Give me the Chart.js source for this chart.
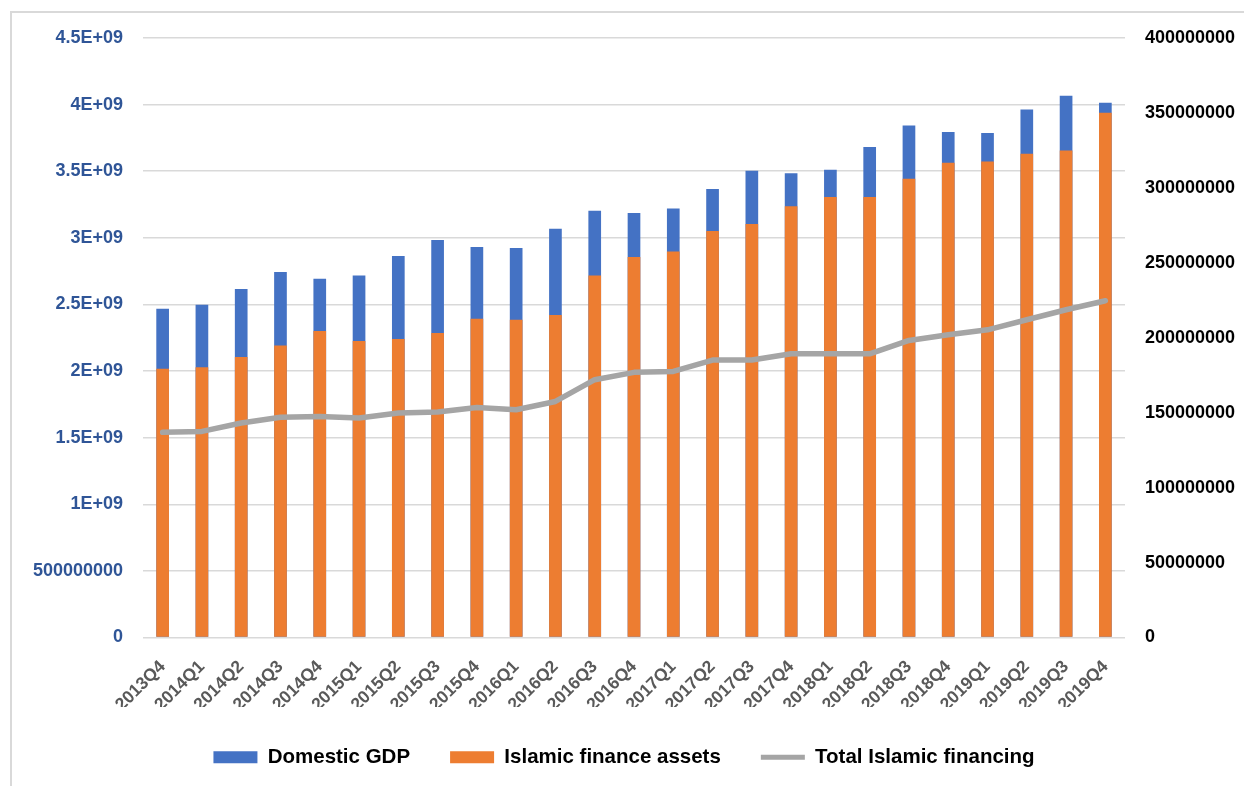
<!DOCTYPE html>
<html>
<head>
<meta charset="utf-8">
<script src="https://cdn.jsdelivr.net/npm/chart.js@4"></script>
<style>
    html, body { margin: 0; padding: 0; background: #fff; }
    #wrap { position: relative; width: 1244px; height: 786px; overflow: hidden; }
    #frame { position: absolute; left: 10px; top: 11px; right: 0; bottom: 0; border-left: 2px solid #d9d9d9; border-top: 2px solid #d9d9d9; pointer-events: none; }
    canvas { display: block; }
</style>
</head>
<body>
<div id="wrap">
    <canvas id="financeChart" width="1244" height="786"></canvas>
    <div id="frame"></div>
</div>
<script>
const quarters = ['2013Q4', '2014Q1', '2014Q2', '2014Q3', '2014Q4', '2015Q1', '2015Q2', '2015Q3', '2015Q4',
    '2016Q1', '2016Q2', '2016Q3', '2016Q4', '2017Q1', '2017Q2', '2017Q3', '2017Q4',
    '2018Q1', '2018Q2', '2018Q3', '2018Q4', '2019Q1', '2019Q2', '2019Q3', '2019Q4'];

// left axis (bars)
const domesticGdp = [2.468e9, 2.498e9, 2.616e9, 2.743e9, 2.693e9, 2.718e9, 2.863e9, 2.983e9, 2.931e9,
    2.923e9, 3.068e9, 3.203e9, 3.186e9, 3.221e9, 3.366e9, 3.503e9, 3.485e9,
    3.511e9, 3.681e9, 3.843e9, 3.794e9, 3.786e9, 3.963e9, 4.066e9, 4.014e9];
const financeAssets = [2.018e9, 2.028e9, 2.106e9, 2.191e9, 2.301e9, 2.226e9, 2.241e9, 2.286e9, 2.393e9,
    2.386e9, 2.421e9, 2.718e9, 2.856e9, 2.898e9, 3.051e9, 3.104e9, 3.237e9,
    3.306e9, 3.306e9, 3.443e9, 3.563e9, 3.573e9, 3.631e9, 3.656e9, 3.938e9];

// right axis (line)
const totalFinancing = [136.9e6, 137.5e6, 143.1e6, 146.9e6, 147.5e6, 146.5e6, 149.8e6, 150.5e6, 153.5e6,
    152.0e6, 157.5e6, 172.0e6, 176.9e6, 177.5e6, 185.1e6, 185.1e6, 189.3e6,
    189.3e6, 189.3e6, 198.2e6, 202.0e6, 205.3e6, 212.0e6, 218.7e6, 224.7e6];

const leftMax = 4.5e9;
const rightMax = 400000000;

function sciLabel(v) {
    if (v >= 1e9) return (Math.round(v / 1e8) / 10) + 'E+09';
    return String(v);
}

const ctx = document.getElementById('financeChart').getContext('2d');
Chart.defaults.font.family = "'Liberation Sans', Arial, sans-serif";

new Chart(ctx, {
    type: 'bar',
    data: {
        labels: quarters,
        datasets: [
            {
                label: 'Domestic GDP',
                data: domesticGdp,
                backgroundColor: '#4472C4',
                yAxisID: 'y',
                order: 3,
                barPercentage: 0.323,
                categoryPercentage: 1
            },
            {
                label: 'Islamic finance assets',
                data: financeAssets,
                backgroundColor: '#ED7D31',
                yAxisID: 'y',
                order: 2,
                barPercentage: 0.323,
                categoryPercentage: 1
            },
            {
                type: 'line',
                label: 'Total Islamic financing',
                data: totalFinancing,
                borderColor: '#A5A5A5',
                backgroundColor: '#A5A5A5',
                borderWidth: 5.5,
                pointRadius: 0,
                tension: 0,
                borderCapStyle: 'round',
                borderJoinStyle: 'round',
                yAxisID: 'y1',
                order: 1
            }
        ]
    },
    options: {
        responsive: false,
        animation: false,
        layout: { padding: { left: 10, right: 6, top: 38, bottom: 8.5 } },
        scales: {
            x: {
                stacked: true,
                grid: { display: false, drawTicks: false },
                border: { display: false },
                afterFit: (s) => { s.height = 69.5; },
                ticks: {
                    minRotation: 45,
                    maxRotation: 45,
                    autoSkip: false,
                    padding: 19,
                    color: '#595959',
                    font: { size: 17.5, weight: 'bold' }
                }
            },
            y: {
                position: 'left',
                min: 0,
                max: leftMax,
                afterFit: (s) => { s.width = 133; },
                grid: { color: '#D9D9D9', lineWidth: 1.5, drawTicks: false },
                border: { display: false },
                ticks: {
                    stepSize: 500000000,
                    padding: 20,
                    color: '#2F5597',
                    font: { size: 18, weight: 'bold' },
                    callback: (v) => sciLabel(v)
                }
            },
            y1: {
                position: 'right',
                min: 0,
                max: rightMax,
                afterFit: (s) => { s.width = 113; },
                grid: { display: false, drawTicks: false },
                border: { display: false },
                ticks: {
                    stepSize: 50000000,
                    padding: 20,
                    color: '#000000',
                    font: { size: 18, weight: 'bold' },
                    callback: (v) => String(v)
                }
            }
        },
        plugins: {
            tooltip: { enabled: false },
            legend: {
                position: 'bottom',
                labels: {
                    usePointStyle: true,
                    pointStyleWidth: 44,
                    boxHeight: 12,
                    padding: 40,
                    color: '#000000',
                    font: { size: 20.5, weight: 'bold' },
                    sort: (a, b) => a.datasetIndex - b.datasetIndex,
                    generateLabels: (chart) => {
                        const items = Chart.defaults.plugins.legend.labels.generateLabels(chart);
                        items.forEach((it) => {
                            const ds = chart.data.datasets[it.datasetIndex];
                            if (ds.type === 'line') {
                                it.pointStyle = 'line';
                                it.lineWidth = 5;
                                it.strokeStyle = '#A5A5A5';
                            } else {
                                it.pointStyle = 'rect';
                                it.lineWidth = 0;
                                it.strokeStyle = ds.backgroundColor;
                            }
                        });
                        return items;
                    }
                }
            }
        }
    }
});
</script>
</body>
</html>
